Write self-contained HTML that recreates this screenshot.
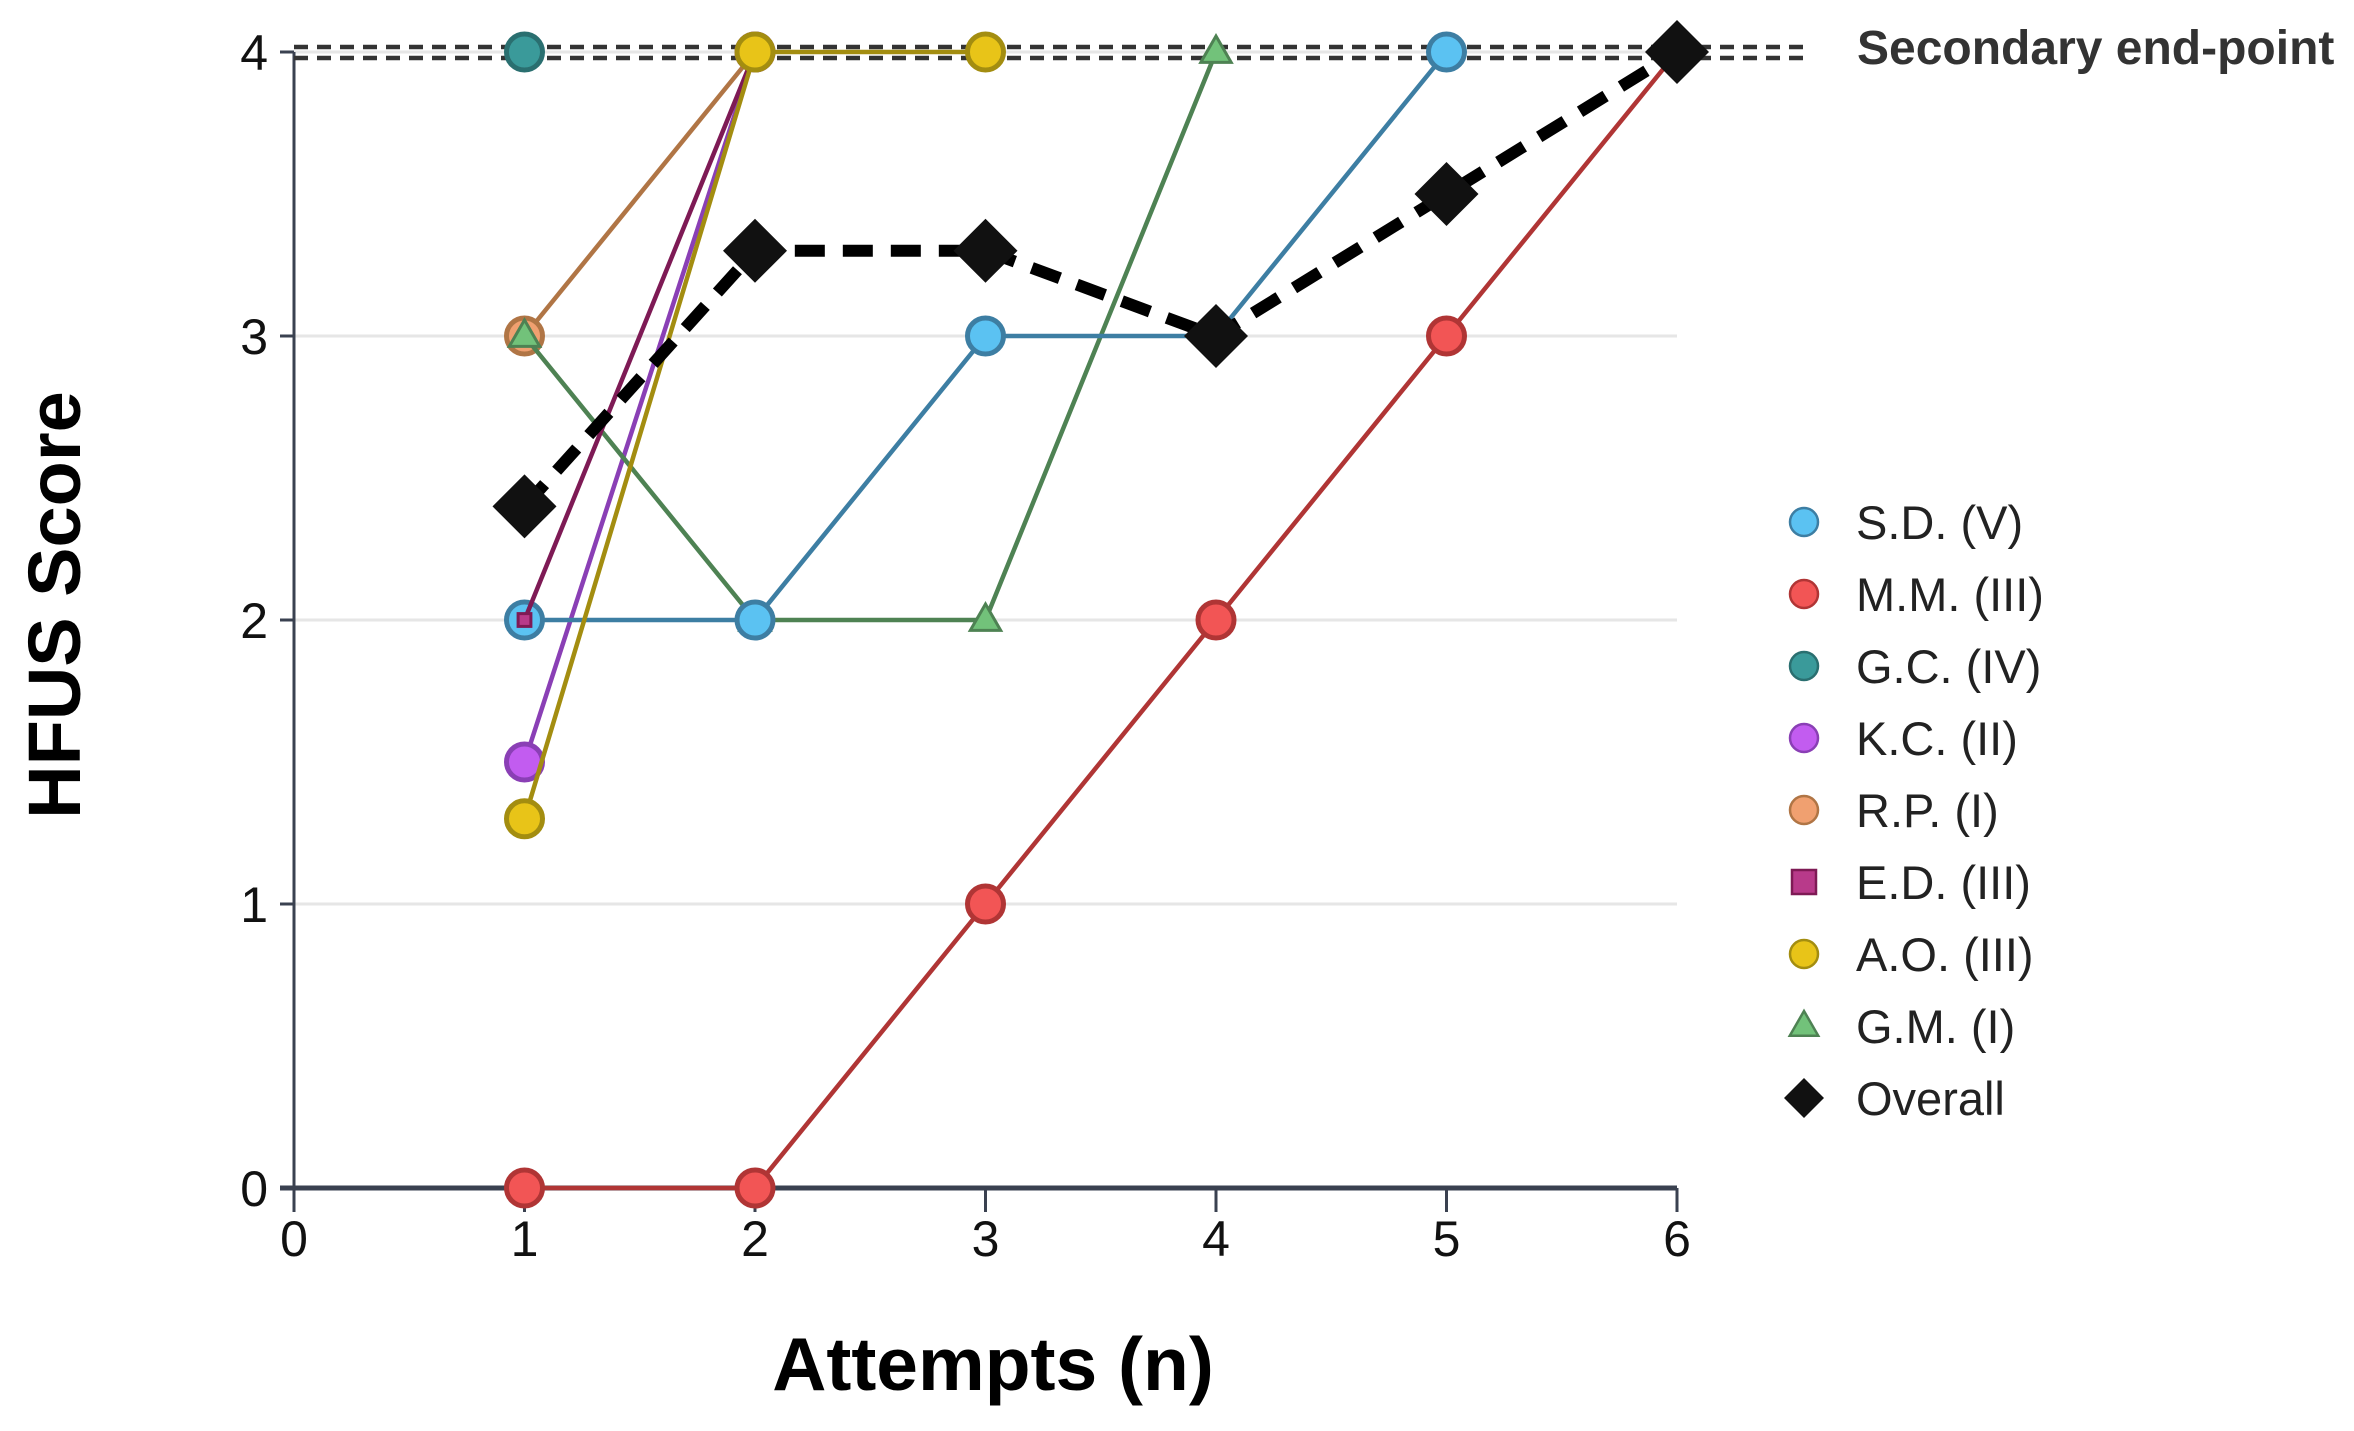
<!DOCTYPE html>
<html><head><meta charset="utf-8"><style>
html,body{margin:0;padding:0;background:#fff;}
svg{display:block;font-family:"Liberation Sans",sans-serif;}
</style></head><body>
<svg id="chart" width="2354" height="1431" viewBox="0 0 2354 1431" xmlns="http://www.w3.org/2000/svg">
<g id="grid"></g>
<g id="axes"></g>
<g id="series"></g>
<g id="legend"></g>
<text x="993" y="1390" font-size="75" font-weight="bold" text-anchor="middle" fill="#000">Attempts (n)</text>
<text x="0" y="0" transform="translate(80,605) rotate(-90)" font-size="74" font-weight="bold" text-anchor="middle" fill="#000">HFUS Score</text>
<text x="1857" y="64" font-size="48" font-weight="bold" fill="#333">Secondary end-point</text>
</svg>
<script>
const xTicks=[0,1,2,3,4,5,6];
const yTicks=[0,1,2,3,4];
const names=["S.D. (V)","M.M. (III)","G.C. (IV)","K.C. (II)","R.P. (I)","E.D. (III)","A.O. (III)","G.M. (I)"];
const sdX=[1,2,3,4,5], sdY=[2,2,3,3,4];
const mmX=[1,2,3,4,5,6], mmY=[0,0,1,2,3,4];
const gcX=[1], gcY=[4];
const kcX=[1,2], kcY=[1.5,4];
const rpX=[1,2], rpY=[3,4];
const edX=[1,2], edY=[2,4];
const aoX=[1,2,3], aoY=[1.3,4,4];
const gmX=[1,2,3,4], gmY=[3,2,2,4];
const overallX=[1,2,3,4,5,6], overallY=[2.4,3.3,3.3,3,3.5,4];
const endpoint=4;

const NS="http://www.w3.org/2000/svg";
const X0=294,X1=1677,Y0=1188,Y4=52;
const sx=v=>X0+(X1-X0)*v/6;
const sy=v=>Y0-(Y0-Y4)*v/4;
function el(tag,attrs,parent){const e=document.createElementNS(NS,tag);for(const k in attrs)e.setAttribute(k,attrs[k]);parent.appendChild(e);return e;}
const grid=document.getElementById('grid'),axes=document.getElementById('axes'),ser=document.getElementById('series'),leg=document.getElementById('legend');

yTicks.forEach(t=>{
 if(t>0){const g=el('line',{x1:X0,x2:X1,y1:sy(t),y2:sy(t),stroke:'#e6e6e6','stroke-width':3},grid);
 
 }
 const tk=el('line',{x1:X0-14,x2:X0,y1:sy(t),y2:sy(t),stroke:'#3a4150','stroke-width':3},axes);
 
 
 const lb=el('text',{x:X0-26,y:sy(t)+18,'font-size':50,'text-anchor':'end',fill:'#111'},axes);
 lb.textContent=t;
 
 
});
xTicks.forEach(t=>{
 const tk=el('line',{x1:sx(t),x2:sx(t),y1:Y0,y2:Y0+24,stroke:'#3a4150','stroke-width':3},axes);
 
 
 const lb=el('text',{x:sx(t),y:Y0+68,'font-size':50,'text-anchor':'middle',fill:'#111'},axes);
 lb.textContent=t;
 
 
});
const ya=el('line',{x1:X0,x2:X0,y1:sy(4),y2:Y0,stroke:'#3a4150','stroke-width':3},axes);


const xa=el('line',{x1:X0-14,x2:X1,y1:Y0,y2:Y0,stroke:'#3a4150','stroke-width':5},axes);


[-5,6].forEach(o=>{
 const d=el('line',{x1:X0,x2:1806,y1:sy(endpoint)+o,y2:sy(endpoint)+o,stroke:'#333','stroke-width':4.5,'stroke-dasharray':'14 9'},axes);
 
 
});

const specs=[
 {n:'sd',x:sdX,y:sdY,line:'#3d7ea3',fill:'#5bc2f2',stroke:'#3d7ea3',m:'circle'},
 {n:'mm',x:mmX,y:mmY,line:'#b03535',fill:'#f25555',stroke:'#b03535',m:'circle'},
 {n:'gc',x:gcX,y:gcY,line:'#2a7070',fill:'#3a9a9a',stroke:'#2a6f70',m:'circle'},
 {n:'kc',x:kcX,y:kcY,line:'#8a3fb5',fill:'#c25cf0',stroke:'#8a3fb5',m:'circle'},
 {n:'rp',x:rpX,y:rpY,line:'#b07545',fill:'#f0a070',stroke:'#b07545',m:'circle'},
 {n:'ed',x:edX,y:edY,line:'#7e1a55',fill:'#b83a8a',stroke:'#7e1a55',m:'square'},
 {n:'ao',x:aoX,y:aoY,line:'#a38d10',fill:'#e8c418',stroke:'#a38d10',m:'circle'},
 {n:'gm',x:gmX,y:gmY,line:'#4e8253',fill:'#72c27a',stroke:'#4e8253',m:'tri'}
];
const drawOrder=[4,3,7,0,5,6,1,2];
function marker(m,cx,cy,fill,stroke,r,parent){
 if(m==='circle')return el('circle',{cx,cy,r,fill,stroke,'stroke-width':5},parent);
 if(m==='square')return el('rect',{x:cx-r*0.8,y:cy-r*0.8,width:r*1.6,height:r*1.6,fill,stroke,'stroke-width':3},parent);
 if(m==='tri')return el('polygon',{points:`${cx},${cy-r} ${cx+r*0.95},${cy+r*0.65} ${cx-r*0.95},${cy+r*0.65}`,fill,stroke,'stroke-width':3},parent);
 return el('polygon',{points:`${cx},${cy-r} ${cx+r},${cy} ${cx},${cy+r} ${cx-r},${cy}`,fill,stroke:'none'},parent);
}
drawOrder.forEach(i=>{
 const s=specs[i];
 const g=el('g',{},ser);
 
 
 if(s.x.length>1){
  const pl=el('polyline',{points:s.x.map((v,j)=>sx(v)+','+sy(s.y[j])).join(' '),fill:'none',stroke:s.line,'stroke-width':4.5},g);
  
  
 }
 s.x.forEach((v,j)=>{
  const mk=marker(s.m,sx(v),sy(s.y[j]),s.fill,s.stroke,s.m==='circle'?18:(s.m==='square'?8:16),g);
  
  
 });
});
const og=el('g',{},ser);


const ol=el('polyline',{points:overallX.map((v,j)=>sx(v)+','+sy(overallY[j])).join(' '),fill:'none',stroke:'#000','stroke-width':12,'stroke-dasharray':'30 18'},og);


overallX.forEach((v,j)=>{
 const mk=marker('diamond',sx(v),sy(overallY[j]),'#111','none',32,og);
 
 
});

const legNames=names.concat(['Overall']);
legNames.forEach((nm,i)=>{
 const y=522+i*72;
 const g=el('g',{},leg);
 
 
 if(i<8){const s=specs[i];
  marker(s.m,1804,y,s.fill,s.stroke,s.m==='circle'?14:15,g).setAttribute('stroke-width',2.5);
 } else marker('diamond',1804,y,'#111','none',20,g);
 const t=el('text',{x:1856,y:y+17,'font-size':47,fill:'#222'},g);
 t.textContent=nm;
});
</script>
</body></html>
